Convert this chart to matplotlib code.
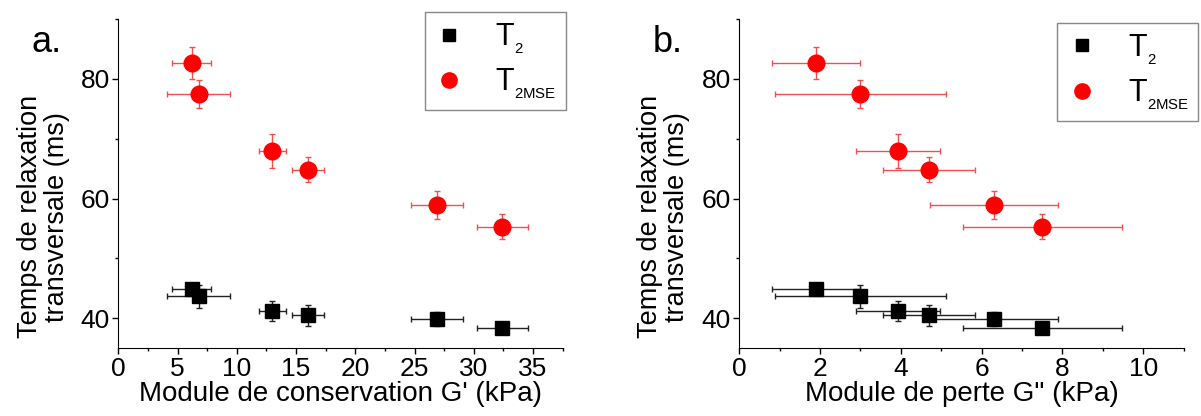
import matplotlib.pyplot as plt
from matplotlib.lines import Line2D
from matplotlib.ticker import MultipleLocator

plt.rcParams['font.family'] = ['Liberation Sans', 'DejaVu Sans']
plt.rcParams['mathtext.fontset'] = 'custom'
plt.rcParams['mathtext.rm'] = 'Liberation Sans'

# storage modulus G' (kPa) and its error
g_store = [6.2, 6.8, 13.0, 16.0, 26.9, 32.4]
g_store_err = [1.63, 2.66, 1.15, 1.35, 2.17, 2.14]
# loss modulus G'' (kPa) and its error
g_loss = [1.9, 3.0, 3.93, 4.7, 6.3, 7.5]
g_loss_err = [1.1, 2.12, 1.05, 1.13, 1.58, 1.97]
# relaxation times (ms)
t2 = [44.9, 43.7, 41.2, 40.5, 39.9, 38.4]
t2_err = [1.0, 1.9, 1.7, 1.8, 1.2, 1.0]
t2mse = [82.7, 77.5, 67.9, 64.8, 58.9, 55.3]
t2mse_err = [2.7, 2.35, 2.85, 2.1, 2.35, 2.1]

fig = plt.figure(figsize=(12.01, 4.16), dpi=100)
ax1 = fig.add_axes([0.0985, 0.163, 0.370, 0.791])
ax2 = fig.add_axes([0.6155, 0.163, 0.370, 0.791])

panels = [
    (ax1, g_store, g_store_err, "Module de conservation G' (kPa)", 37.5, 5, 2.5,
     'a.', -0.108, (0.471, 0.971)),
    (ax2, g_loss, g_loss_err, 'Module de perte G" (kPa)', 11.0, 2, 1,
     'b.', -0.11, (0.9975, 0.945)),
]

for ax, x, xerr, xlabel, xmax, major, minor, tag, ylab_x, leg_pos in panels:
    ax.errorbar(x, t2, xerr=xerr, yerr=t2_err, fmt='s', color='black',
                markersize=10, ecolor='#222222', elinewidth=1, capsize=2.5,
                capthick=1, zorder=3)
    ax.errorbar(x, t2mse, xerr=xerr, yerr=t2mse_err, fmt='o', color='#ff0000',
                markersize=12, ecolor='#f05050', elinewidth=1, capsize=2.5,
                capthick=1, zorder=3)
    ax.set_xlim(0, xmax)
    ax.set_ylim(35, 90)
    ax.xaxis.set_major_locator(MultipleLocator(major))
    ax.xaxis.set_minor_locator(MultipleLocator(minor))
    ax.yaxis.set_major_locator(MultipleLocator(20))
    ax.yaxis.set_minor_locator(MultipleLocator(10))
    ax.tick_params(which='major', length=4, width=1, labelsize=19, pad=2)
    ax.tick_params(which='minor', length=2.5, width=1)
    ax.spines['top'].set_visible(False)
    ax.spines['right'].set_visible(False)
    ax.set_xlabel(xlabel, fontsize=20, labelpad=0)
    ax.set_ylabel('Temps de relaxation\ntransversale (ms)', fontsize=19.5,
                  linespacing=1.05)
    ax.yaxis.set_label_coords(ylab_x, 0.4)
    ax.text(-0.195, 0.90, tag, transform=ax.transAxes, fontsize=26)

    handles = [
        Line2D([], [], ls='none', marker='s', color='black', markersize=9),
        Line2D([], [], ls='none', marker='o', color='#ff0000', markersize=11),
    ]
    # smaller, lower subscripts as in the original figure
    labels = [r'$\mathrm{T}_{_{\mathrm{2}}}$', r'$\mathrm{T}_{_{\mathrm{2MSE}}}$']
    fig.legend(handles, labels, loc='upper right', bbox_to_anchor=leg_pos,
               bbox_transform=fig.transFigure, borderaxespad=0, fontsize=22,
               handlelength=1.0, handletextpad=1.0, borderpad=0.3,
               labelspacing=0.35, fancybox=False, edgecolor='#888888',
               framealpha=1)

plt.savefig('out.png', dpi=100)
